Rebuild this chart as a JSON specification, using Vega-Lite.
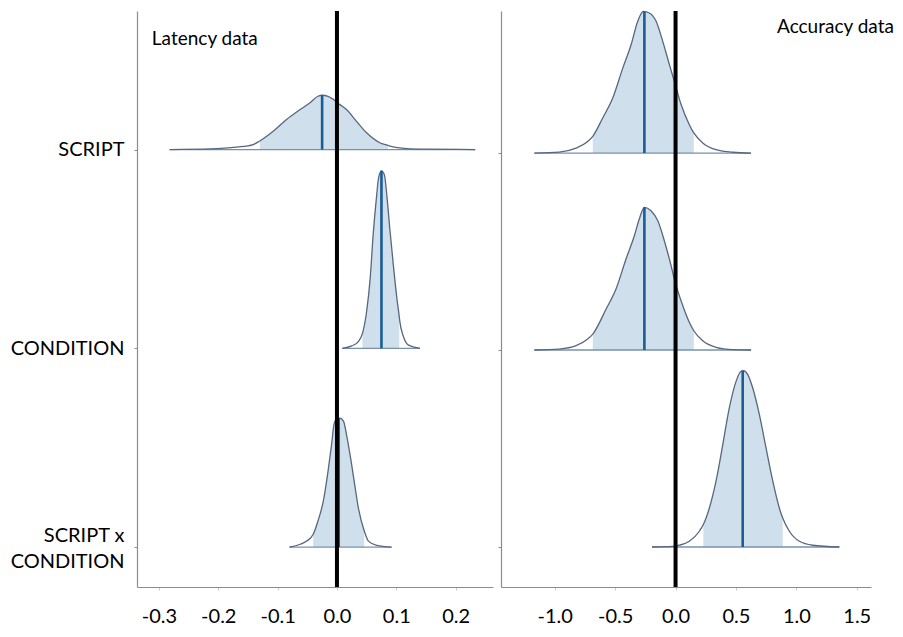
{
  "$schema": "https://vega.github.io/schema/vega-lite/v6.json",
  "padding": {"left": 10, "top": 8, "right": 5, "bottom": 5},
  "spacing": 4,
  "config": {
    "view": {"stroke": null},
    "font": "Lato",
    "axis": {"labelFont": "Lato", "labelFontSize": 20, "labelColor": "#000000", "domainColor": "#8c8c8c", "tickColor": "#8c8c8c", "grid": false, "domainWidth": 1.2}
  },
  "datasets": {
    "dens": [
      {"p": "L", "v": "SCRIPT", "x": -0.282, "y": 3.000, "b": 3, "i": false},
      {"p": "L", "v": "SCRIPT", "x": -0.214, "y": 3.003, "b": 3, "i": false},
      {"p": "L", "v": "SCRIPT", "x": -0.169, "y": 3.012, "b": 3, "i": false},
      {"p": "L", "v": "SCRIPT", "x": -0.141, "y": 3.025, "b": 3, "i": false},
      {"p": "L", "v": "SCRIPT", "x": -0.130, "y": 3.043, "b": 3, "i": true},
      {"p": "L", "v": "SCRIPT", "x": -0.107, "y": 3.093, "b": 3, "i": true},
      {"p": "L", "v": "SCRIPT", "x": -0.085, "y": 3.151, "b": 3, "i": true},
      {"p": "L", "v": "SCRIPT", "x": -0.062, "y": 3.201, "b": 3, "i": true},
      {"p": "L", "v": "SCRIPT", "x": -0.046, "y": 3.234, "b": 3, "i": true},
      {"p": "L", "v": "SCRIPT", "x": -0.032, "y": 3.268, "b": 3, "i": true},
      {"p": "L", "v": "SCRIPT", "x": -0.025, "y": 3.273, "b": 3, "i": true},
      {"p": "L", "v": "SCRIPT", "x": -0.015, "y": 3.268, "b": 3, "i": true},
      {"p": "L", "v": "SCRIPT", "x": -0.006, "y": 3.252, "b": 3, "i": true},
      {"p": "L", "v": "SCRIPT", "x": 0.005, "y": 3.226, "b": 3, "i": true},
      {"p": "L", "v": "SCRIPT", "x": 0.016, "y": 3.201, "b": 3, "i": true},
      {"p": "L", "v": "SCRIPT", "x": 0.033, "y": 3.142, "b": 3, "i": true},
      {"p": "L", "v": "SCRIPT", "x": 0.050, "y": 3.084, "b": 3, "i": true},
      {"p": "L", "v": "SCRIPT", "x": 0.073, "y": 3.033, "b": 3, "i": true},
      {"p": "L", "v": "SCRIPT", "x": 0.086, "y": 3.021, "b": 3, "i": true},
      {"p": "L", "v": "SCRIPT", "x": 0.089, "y": 3.017, "b": 3, "i": false},
      {"p": "L", "v": "SCRIPT", "x": 0.118, "y": 3.005, "b": 3, "i": false},
      {"p": "L", "v": "SCRIPT", "x": 0.151, "y": 3.002, "b": 3, "i": false},
      {"p": "L", "v": "SCRIPT", "x": 0.233, "y": 3.000, "b": 3, "i": false},

      {"p": "L", "v": "CONDITION", "x": 0.009, "y": 2.000, "b": 2, "i": false},
      {"p": "L", "v": "CONDITION", "x": 0.025, "y": 2.012, "b": 2, "i": false},
      {"p": "L", "v": "CONDITION", "x": 0.036, "y": 2.034, "b": 2, "i": false},
      {"p": "L", "v": "CONDITION", "x": 0.043, "y": 2.075, "b": 2, "i": true},
      {"p": "L", "v": "CONDITION", "x": 0.050, "y": 2.185, "b": 2, "i": true},
      {"p": "L", "v": "CONDITION", "x": 0.056, "y": 2.352, "b": 2, "i": true},
      {"p": "L", "v": "CONDITION", "x": 0.061, "y": 2.571, "b": 2, "i": true},
      {"p": "L", "v": "CONDITION", "x": 0.067, "y": 2.772, "b": 2, "i": true},
      {"p": "L", "v": "CONDITION", "x": 0.070, "y": 2.855, "b": 2, "i": true},
      {"p": "L", "v": "CONDITION", "x": 0.075, "y": 2.893, "b": 2, "i": true},
      {"p": "L", "v": "CONDITION", "x": 0.080, "y": 2.872, "b": 2, "i": true},
      {"p": "L", "v": "CONDITION", "x": 0.084, "y": 2.772, "b": 2, "i": true},
      {"p": "L", "v": "CONDITION", "x": 0.089, "y": 2.604, "b": 2, "i": true},
      {"p": "L", "v": "CONDITION", "x": 0.095, "y": 2.420, "b": 2, "i": true},
      {"p": "L", "v": "CONDITION", "x": 0.101, "y": 2.252, "b": 2, "i": true},
      {"p": "L", "v": "CONDITION", "x": 0.105, "y": 2.159, "b": 2, "i": true},
      {"p": "L", "v": "CONDITION", "x": 0.106, "y": 2.134, "b": 2, "i": false},
      {"p": "L", "v": "CONDITION", "x": 0.112, "y": 2.059, "b": 2, "i": false},
      {"p": "L", "v": "CONDITION", "x": 0.120, "y": 2.017, "b": 2, "i": false},
      {"p": "L", "v": "CONDITION", "x": 0.140, "y": 2.000, "b": 2, "i": false},

      {"p": "L", "v": "SxC", "x": -0.080, "y": 1.000, "b": 1, "i": false},
      {"p": "L", "v": "SxC", "x": -0.062, "y": 1.014, "b": 1, "i": false},
      {"p": "L", "v": "SxC", "x": -0.051, "y": 1.030, "b": 1, "i": false},
      {"p": "L", "v": "SxC", "x": -0.040, "y": 1.064, "b": 1, "i": true},
      {"p": "L", "v": "SxC", "x": -0.032, "y": 1.131, "b": 1, "i": true},
      {"p": "L", "v": "SxC", "x": -0.023, "y": 1.231, "b": 1, "i": true},
      {"p": "L", "v": "SxC", "x": -0.015, "y": 1.382, "b": 1, "i": true},
      {"p": "L", "v": "SxC", "x": -0.009, "y": 1.517, "b": 1, "i": true},
      {"p": "L", "v": "SxC", "x": -0.005, "y": 1.617, "b": 1, "i": true},
      {"p": "L", "v": "SxC", "x": -0.001, "y": 1.643, "b": 1, "i": true},
      {"p": "L", "v": "SxC", "x": 0.005, "y": 1.648, "b": 1, "i": true},
      {"p": "L", "v": "SxC", "x": 0.011, "y": 1.634, "b": 1, "i": true},
      {"p": "L", "v": "SxC", "x": 0.016, "y": 1.567, "b": 1, "i": true},
      {"p": "L", "v": "SxC", "x": 0.022, "y": 1.466, "b": 1, "i": true},
      {"p": "L", "v": "SxC", "x": 0.029, "y": 1.332, "b": 1, "i": true},
      {"p": "L", "v": "SxC", "x": 0.036, "y": 1.198, "b": 1, "i": true},
      {"p": "L", "v": "SxC", "x": 0.046, "y": 1.081, "b": 1, "i": true},
      {"p": "L", "v": "SxC", "x": 0.053, "y": 1.030, "b": 1, "i": false},
      {"p": "L", "v": "SxC", "x": 0.067, "y": 1.009, "b": 1, "i": false},
      {"p": "L", "v": "SxC", "x": 0.092, "y": 1.000, "b": 1, "i": false},

      {"p": "A", "v": "SCRIPT", "x": -1.169, "y": 3.000, "b": 3, "i": false},
      {"p": "A", "v": "SCRIPT", "x": -0.962, "y": 3.005, "b": 3, "i": false},
      {"p": "A", "v": "SCRIPT", "x": -0.824, "y": 3.025, "b": 3, "i": false},
      {"p": "A", "v": "SCRIPT", "x": -0.727, "y": 3.059, "b": 3, "i": false},
      {"p": "A", "v": "SCRIPT", "x": -0.685, "y": 3.085, "b": 3, "i": true},
      {"p": "A", "v": "SCRIPT", "x": -0.603, "y": 3.178, "b": 3, "i": true},
      {"p": "A", "v": "SCRIPT", "x": -0.520, "y": 3.279, "b": 3, "i": true},
      {"p": "A", "v": "SCRIPT", "x": -0.437, "y": 3.431, "b": 3, "i": true},
      {"p": "A", "v": "SCRIPT", "x": -0.368, "y": 3.550, "b": 3, "i": true},
      {"p": "A", "v": "SCRIPT", "x": -0.313, "y": 3.669, "b": 3, "i": true},
      {"p": "A", "v": "SCRIPT", "x": -0.267, "y": 3.719, "b": 3, "i": true},
      {"p": "A", "v": "SCRIPT", "x": -0.217, "y": 3.711, "b": 3, "i": true},
      {"p": "A", "v": "SCRIPT", "x": -0.161, "y": 3.669, "b": 3, "i": true},
      {"p": "A", "v": "SCRIPT", "x": -0.106, "y": 3.567, "b": 3, "i": true},
      {"p": "A", "v": "SCRIPT", "x": -0.051, "y": 3.449, "b": 3, "i": true},
      {"p": "A", "v": "SCRIPT", "x": -0.010, "y": 3.364, "b": 3, "i": true},
      {"p": "A", "v": "SCRIPT", "x": 0.046, "y": 3.246, "b": 3, "i": true},
      {"p": "A", "v": "SCRIPT", "x": 0.114, "y": 3.144, "b": 3, "i": true},
      {"p": "A", "v": "SCRIPT", "x": 0.151, "y": 3.102, "b": 3, "i": true},
      {"p": "A", "v": "SCRIPT", "x": 0.225, "y": 3.051, "b": 3, "i": false},
      {"p": "A", "v": "SCRIPT", "x": 0.335, "y": 3.017, "b": 3, "i": false},
      {"p": "A", "v": "SCRIPT", "x": 0.474, "y": 3.004, "b": 3, "i": false},
      {"p": "A", "v": "SCRIPT", "x": 0.625, "y": 3.000, "b": 3, "i": false},

      {"p": "A", "v": "CONDITION", "x": -1.169, "y": 2.000, "b": 2, "i": false},
      {"p": "A", "v": "CONDITION", "x": -0.962, "y": 2.005, "b": 2, "i": false},
      {"p": "A", "v": "CONDITION", "x": -0.824, "y": 2.022, "b": 2, "i": false},
      {"p": "A", "v": "CONDITION", "x": -0.727, "y": 2.056, "b": 2, "i": false},
      {"p": "A", "v": "CONDITION", "x": -0.685, "y": 2.081, "b": 2, "i": true},
      {"p": "A", "v": "CONDITION", "x": -0.575, "y": 2.208, "b": 2, "i": true},
      {"p": "A", "v": "CONDITION", "x": -0.493, "y": 2.310, "b": 2, "i": true},
      {"p": "A", "v": "CONDITION", "x": -0.410, "y": 2.462, "b": 2, "i": true},
      {"p": "A", "v": "CONDITION", "x": -0.341, "y": 2.580, "b": 2, "i": true},
      {"p": "A", "v": "CONDITION", "x": -0.300, "y": 2.665, "b": 2, "i": true},
      {"p": "A", "v": "CONDITION", "x": -0.258, "y": 2.724, "b": 2, "i": true},
      {"p": "A", "v": "CONDITION", "x": -0.203, "y": 2.707, "b": 2, "i": true},
      {"p": "A", "v": "CONDITION", "x": -0.147, "y": 2.656, "b": 2, "i": true},
      {"p": "A", "v": "CONDITION", "x": -0.093, "y": 2.555, "b": 2, "i": true},
      {"p": "A", "v": "CONDITION", "x": -0.037, "y": 2.428, "b": 2, "i": true},
      {"p": "A", "v": "CONDITION", "x": -0.010, "y": 2.360, "b": 2, "i": true},
      {"p": "A", "v": "CONDITION", "x": 0.060, "y": 2.225, "b": 2, "i": true},
      {"p": "A", "v": "CONDITION", "x": 0.114, "y": 2.141, "b": 2, "i": true},
      {"p": "A", "v": "CONDITION", "x": 0.151, "y": 2.098, "b": 2, "i": true},
      {"p": "A", "v": "CONDITION", "x": 0.225, "y": 2.047, "b": 2, "i": false},
      {"p": "A", "v": "CONDITION", "x": 0.335, "y": 2.014, "b": 2, "i": false},
      {"p": "A", "v": "CONDITION", "x": 0.474, "y": 2.002, "b": 2, "i": false},
      {"p": "A", "v": "CONDITION", "x": 0.625, "y": 2.000, "b": 2, "i": false},

      {"p": "A", "v": "SxC", "x": -0.195, "y": 1.000, "b": 1, "i": false},
      {"p": "A", "v": "SxC", "x": -0.023, "y": 1.003, "b": 1, "i": false},
      {"p": "A", "v": "SxC", "x": 0.031, "y": 1.009, "b": 1, "i": false},
      {"p": "A", "v": "SxC", "x": 0.114, "y": 1.029, "b": 1, "i": false},
      {"p": "A", "v": "SxC", "x": 0.197, "y": 1.080, "b": 1, "i": false},
      {"p": "A", "v": "SxC", "x": 0.230, "y": 1.114, "b": 1, "i": true},
      {"p": "A", "v": "SxC", "x": 0.280, "y": 1.198, "b": 1, "i": true},
      {"p": "A", "v": "SxC", "x": 0.335, "y": 1.334, "b": 1, "i": true},
      {"p": "A", "v": "SxC", "x": 0.391, "y": 1.520, "b": 1, "i": true},
      {"p": "A", "v": "SxC", "x": 0.445, "y": 1.706, "b": 1, "i": true},
      {"p": "A", "v": "SxC", "x": 0.501, "y": 1.841, "b": 1, "i": true},
      {"p": "A", "v": "SxC", "x": 0.542, "y": 1.892, "b": 1, "i": true},
      {"p": "A", "v": "SxC", "x": 0.561, "y": 1.895, "b": 1, "i": true},
      {"p": "A", "v": "SxC", "x": 0.598, "y": 1.875, "b": 1, "i": true},
      {"p": "A", "v": "SxC", "x": 0.639, "y": 1.807, "b": 1, "i": true},
      {"p": "A", "v": "SxC", "x": 0.694, "y": 1.672, "b": 1, "i": true},
      {"p": "A", "v": "SxC", "x": 0.749, "y": 1.503, "b": 1, "i": true},
      {"p": "A", "v": "SxC", "x": 0.805, "y": 1.334, "b": 1, "i": true},
      {"p": "A", "v": "SxC", "x": 0.859, "y": 1.198, "b": 1, "i": true},
      {"p": "A", "v": "SxC", "x": 0.887, "y": 1.147, "b": 1, "i": true},
      {"p": "A", "v": "SxC", "x": 0.942, "y": 1.080, "b": 1, "i": false},
      {"p": "A", "v": "SxC", "x": 1.025, "y": 1.029, "b": 1, "i": false},
      {"p": "A", "v": "SxC", "x": 1.136, "y": 1.009, "b": 1, "i": false},
      {"p": "A", "v": "SxC", "x": 1.356, "y": 1.000, "b": 1, "i": false}
    ],
    "meds": [
      {"p": "L", "v": "SCRIPT", "x": -0.025, "b": 3, "t": 3.273},
      {"p": "L", "v": "CONDITION", "x": 0.075, "b": 2, "t": 2.893},
      {"p": "L", "v": "SxC", "x": 0.003, "b": 1, "t": 1.646},
      {"p": "A", "v": "SCRIPT", "x": -0.258, "b": 3, "t": 3.717},
      {"p": "A", "v": "CONDITION", "x": -0.258, "b": 2, "t": 2.724},
      {"p": "A", "v": "SxC", "x": 0.556, "b": 1, "t": 1.895}
    ],
    "notes": [
      {"p": "L", "x": -0.312, "y": 3.556, "t": "Latency data"},
      {"p": "A", "x": 0.840, "y": 3.640, "t": "Accuracy data"}
    ],
    "zero": [{"x": 0}]
  },
  "resolve": {"scale": {"x": "independent", "y": "independent"}},
  "hconcat": [
    {
      "width": 356,
      "height": 576,
      "encoding": {
        "x": {"field": "x", "type": "quantitative", "title": null,
          "scale": {"domain": [-0.337, 0.263], "nice": false, "zero": false},
          "axis": {"values": [-0.3, -0.2, -0.1, 0, 0.1, 0.2], "tickSize": 3, "labelPadding": 16, "tickColor": "#c8c8c8", "labelFlush": false,
            "labelExpr": "datum.value < 0 ? '-' + format(-datum.value, '.1f') : format(datum.value, '.1f')"}}
      },
      "layer": [
        {
          "data": {"name": "dens"},
          "transform": [{"filter": {"field": "p", "equal": "L"}}, {"filter": {"field": "i", "equal": true}}],
          "mark": {"type": "area", "color": "#cfdfeb", "interpolate": "monotone"},
          "encoding": {
            "y": {"field": "y", "type": "quantitative", "title": null, "stack": null,
              "scale": {"domain": [0.799, 3.697], "nice": false, "zero": false},
              "axis": {"values": [1, 2, 3], "tickSize": 3, "labelPadding": 10, "labelLineHeight": 26, "labelBaseline": "middle",
                "labelOffset": {"condition": {"test": "datum.value == 1", "value": -12}, "value": 0},
                "labelExpr": "datum.value == 3 ? 'SCRIPT' : datum.value == 2 ? 'CONDITION' : ['SCRIPT x', 'CONDITION']"}},
            "y2": {"field": "b"},
            "detail": {"field": "v"}
          }
        },
        {
          "data": {"name": "dens"},
          "transform": [{"filter": {"field": "p", "equal": "L"}}],
          "mark": {"type": "line", "color": "#7890aa", "strokeWidth": 1.3},
          "encoding": {
            "y": {"field": "b", "type": "quantitative", "title": null, "stack": null},
            "detail": {"field": "v"}
          }
        },
        {
          "data": {"name": "dens"},
          "transform": [{"filter": {"field": "p", "equal": "L"}}],
          "mark": {"type": "line", "color": "#56677f", "strokeWidth": 1.3, "interpolate": "monotone"},
          "encoding": {
            "y": {"field": "y", "type": "quantitative", "title": null, "stack": null},
            "detail": {"field": "v"}
          }
        },
        {
          "data": {"name": "meds"},
          "transform": [{"filter": {"field": "p", "equal": "L"}}],
          "mark": {"type": "rule", "color": "#1a5c96", "strokeWidth": 2.6},
          "encoding": {
            "y": {"field": "b", "type": "quantitative", "title": null},
            "y2": {"field": "t"}
          }
        },
        {
          "data": {"name": "zero"},
          "mark": {"type": "rule", "color": "#000000", "strokeWidth": 4},
          "encoding": {}
        },
        {
          "data": {"name": "notes"},
          "transform": [{"filter": {"field": "p", "equal": "L"}}],
          "mark": {"type": "text", "align": "left", "baseline": "middle", "fontSize": 19, "font": "Lato", "color": "#000000"},
          "encoding": {
            "y": {"field": "y", "type": "quantitative", "title": null},
            "text": {"field": "t"}
          }
        }
      ]
    },
    {
      "width": 370,
      "height": 576,
      "encoding": {
        "x": {"field": "x", "type": "quantitative", "title": null,
          "scale": {"domain": [-1.445, 1.618], "nice": false, "zero": false},
          "axis": {"values": [-1, -0.5, 0, 0.5, 1, 1.5], "tickSize": 3, "labelPadding": 16, "tickColor": "#c8c8c8", "labelFlush": false,
            "labelExpr": "datum.value < 0 ? '-' + format(-datum.value, '.1f') : format(datum.value, '.1f')"}}
      },
      "layer": [
        {
          "data": {"name": "dens"},
          "transform": [{"filter": {"field": "p", "equal": "A"}}, {"filter": {"field": "i", "equal": true}}],
          "mark": {"type": "area", "color": "#cfdfeb", "interpolate": "monotone"},
          "encoding": {
            "y": {"field": "y", "type": "quantitative", "title": null, "stack": null,
              "scale": {"domain": [0.797, 3.721], "nice": false, "zero": false},
              "axis": {"values": [1, 2, 3], "tickSize": 3, "labels": false}},
            "y2": {"field": "b"},
            "detail": {"field": "v"}
          }
        },
        {
          "data": {"name": "dens"},
          "transform": [{"filter": {"field": "p", "equal": "A"}}],
          "mark": {"type": "line", "color": "#7890aa", "strokeWidth": 1.3},
          "encoding": {
            "y": {"field": "b", "type": "quantitative", "title": null, "stack": null},
            "detail": {"field": "v"}
          }
        },
        {
          "data": {"name": "dens"},
          "transform": [{"filter": {"field": "p", "equal": "A"}}],
          "mark": {"type": "line", "color": "#56677f", "strokeWidth": 1.3, "interpolate": "monotone"},
          "encoding": {
            "y": {"field": "y", "type": "quantitative", "title": null, "stack": null},
            "detail": {"field": "v"}
          }
        },
        {
          "data": {"name": "meds"},
          "transform": [{"filter": {"field": "p", "equal": "A"}}],
          "mark": {"type": "rule", "color": "#1a5c96", "strokeWidth": 2.6},
          "encoding": {
            "y": {"field": "b", "type": "quantitative", "title": null},
            "y2": {"field": "t"}
          }
        },
        {
          "data": {"name": "zero"},
          "mark": {"type": "rule", "color": "#000000", "strokeWidth": 4},
          "encoding": {}
        },
        {
          "data": {"name": "notes"},
          "transform": [{"filter": {"field": "p", "equal": "A"}}],
          "mark": {"type": "text", "align": "left", "baseline": "middle", "fontSize": 19, "font": "Lato", "color": "#000000"},
          "encoding": {
            "y": {"field": "y", "type": "quantitative", "title": null},
            "text": {"field": "t"}
          }
        }
      ]
    }
  ]
}
